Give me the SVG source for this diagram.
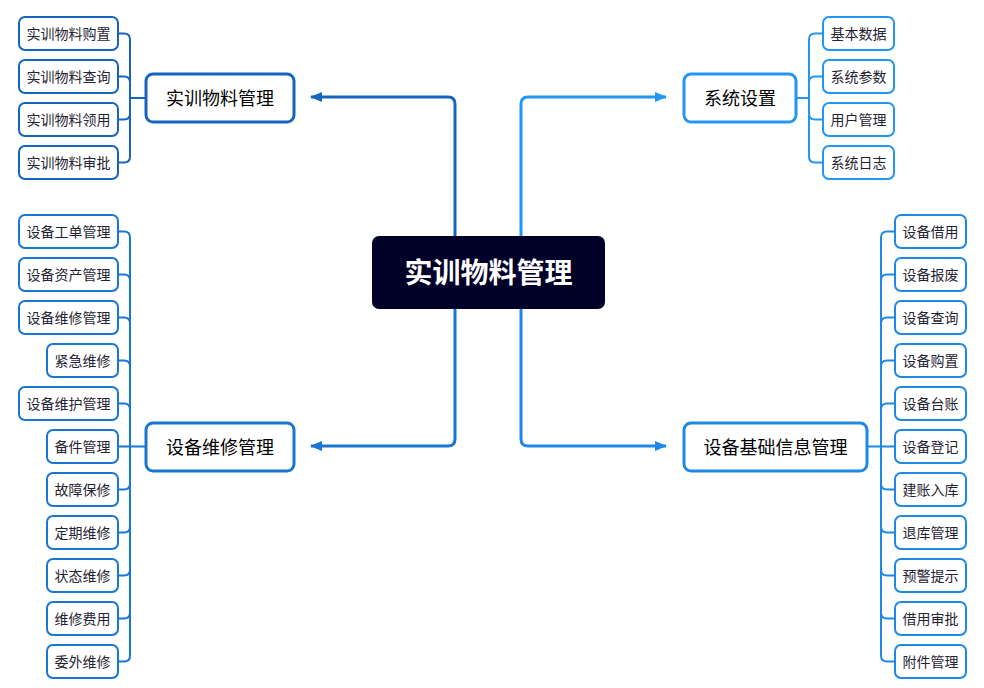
<svg xmlns="http://www.w3.org/2000/svg" width="984" height="688" viewBox="0 0 984 688">
<defs>
<marker id="ahL1" viewBox="0 0 12 10" refX="11" refY="5" markerWidth="12" markerHeight="10" markerUnits="userSpaceOnUse" orient="auto"><path d="M0,0 L12,5 L0,10 Z" fill="#1565C0"/></marker>
<marker id="ahL2" viewBox="0 0 12 10" refX="11" refY="5" markerWidth="12" markerHeight="10" markerUnits="userSpaceOnUse" orient="auto"><path d="M0,0 L12,5 L0,10 Z" fill="#1976D2"/></marker>
<marker id="ahR1" viewBox="0 0 12 10" refX="11" refY="5" markerWidth="12" markerHeight="10" markerUnits="userSpaceOnUse" orient="auto"><path d="M0,0 L12,5 L0,10 Z" fill="#2196F3"/></marker>
<marker id="ahR2" viewBox="0 0 12 10" refX="11" refY="5" markerWidth="12" markerHeight="10" markerUnits="userSpaceOnUse" orient="auto"><path d="M0,0 L12,5 L0,10 Z" fill="#1E88E5"/></marker>
</defs>
<style>
text{font-family:"Noto Sans CJK SC","Liberation Sans",sans-serif;dominant-baseline:central;text-anchor:middle}
.leaf rect{fill:#fff;stroke-width:2}
.leaf text{font-size:14px;fill:#1f2433}
.main rect{fill:#fff;stroke-width:3}
.main text{font-size:18px;fill:#000}
.c1{stroke:#1565C0}.c2{stroke:#1976D2}.c3{stroke:#2196F3}.c4{stroke:#1E88E5}
.br{fill:none;stroke-width:2}
.ar{fill:none;stroke-width:3}
</style>
<rect width="984" height="688" fill="#fff"/>
<g id="connectors">
<path class="ar c1" d="M455,236 V104 Q455,97 448,97 H311" marker-end="url(#ahL1)"/>
<path class="ar c3" d="M521,236 V104 Q521,97 528,97 H666" marker-end="url(#ahR1)"/>
<path class="ar c2" d="M455,309 V439 Q455,446 448,446 H311" marker-end="url(#ahL2)"/>
<path class="ar c4" d="M521,309 V439 Q521,446 528,446 H666" marker-end="url(#ahR2)"/>
<g class="br c1">
<path d="M145,98 H130"/>
<path d="M118,33.5 H124 Q130,33.5 130,39.5 V156.5 Q130,162.5 124,162.5 H118"/>
<path d="M118,76.5 H124 Q130,76.5 130,82.5"/>
<path d="M118,119.5 H124 Q130,119.5 130,113.5"/>
</g>
<g class="br c3">
<path d="M797,98 H809"/>
<path d="M823,33.5 H815 Q809,33.5 809,39.5 V156.5 Q809,162.5 815,162.5 H823"/>
<path d="M823,76.5 H815 Q809,76.5 809,82.5"/>
<path d="M823,119.5 H815 Q809,119.5 809,113.5"/>
</g>
<g class="br c2">
<path d="M145,446.5 H118"/>
<path d="M118,231.5 H124 Q130,231.5 130,237.5 V655.5 Q130,661.5 124,661.5 H118"/>
<path d="M118,274.5 H124 Q130,274.5 130,280.5"/>
<path d="M118,317.5 H124 Q130,317.5 130,323.5"/>
<path d="M118,360.5 H124 Q130,360.5 130,366.5"/>
<path d="M118,403.5 H124 Q130,403.5 130,409.5"/>
<path d="M118,489.5 H124 Q130,489.5 130,483.5"/>
<path d="M118,532.5 H124 Q130,532.5 130,526.5"/>
<path d="M118,575.5 H124 Q130,575.5 130,569.5"/>
<path d="M118,618.5 H124 Q130,618.5 130,612.5"/>
</g>
<g class="br c4">
<path d="M868,446.5 H895"/>
<path d="M895,231.5 H887 Q881,231.5 881,237.5 V655.5 Q881,661.5 887,661.5 H895"/>
<path d="M895,274.5 H887 Q881,274.5 881,280.5"/>
<path d="M895,317.5 H887 Q881,317.5 881,323.5"/>
<path d="M895,360.5 H887 Q881,360.5 881,366.5"/>
<path d="M895,403.5 H887 Q881,403.5 881,409.5"/>
<path d="M895,489.5 H887 Q881,489.5 881,483.5"/>
<path d="M895,532.5 H887 Q881,532.5 881,526.5"/>
<path d="M895,575.5 H887 Q881,575.5 881,569.5"/>
<path d="M895,618.5 H887 Q881,618.5 881,612.5"/>
</g>
</g>
<g id="root"><rect x="372" y="236" width="233" height="73" rx="7" fill="#000028"/><text x="488.5" y="271" font-size="28" font-weight="bold" fill="#fff">实训物料管理</text></g>
<g id="n-wl" class="main"><rect class="c1" x="146" y="74" width="148" height="48" rx="7"/><text x="220" y="97">实训物料管理</text></g>
<g id="n-xt" class="main"><rect class="c3" x="684" y="74" width="112" height="48" rx="7"/><text x="740" y="97">系统设置</text></g>
<g id="n-wx" class="main"><rect class="c2" x="146" y="423" width="148" height="48" rx="7"/><text x="220" y="446">设备维修管理</text></g>
<g id="n-jc" class="main"><rect class="c4" x="684" y="423" width="183" height="48" rx="7"/><text x="775.5" y="446">设备基础信息管理</text></g>
<g id="l1" class="leaf"><rect class="c1" x="19" y="17" width="99" height="33" rx="6"/><text x="68.5" y="32.5">实训物料购置</text></g>
<g id="l2" class="leaf"><rect class="c1" x="19" y="60" width="99" height="33" rx="6"/><text x="68.5" y="75.5">实训物料查询</text></g>
<g id="l3" class="leaf"><rect class="c1" x="19" y="103" width="99" height="33" rx="6"/><text x="68.5" y="118.5">实训物料领用</text></g>
<g id="l4" class="leaf"><rect class="c1" x="19" y="146" width="99" height="33" rx="6"/><text x="68.5" y="161.5">实训物料审批</text></g>
<g id="r1" class="leaf"><rect class="c3" x="823" y="17" width="71" height="33" rx="6"/><text x="858.5" y="32.5">基本数据</text></g>
<g id="r2" class="leaf"><rect class="c3" x="823" y="60" width="71" height="33" rx="6"/><text x="858.5" y="75.5">系统参数</text></g>
<g id="r3" class="leaf"><rect class="c3" x="823" y="103" width="71" height="33" rx="6"/><text x="858.5" y="118.5">用户管理</text></g>
<g id="r4" class="leaf"><rect class="c3" x="823" y="146" width="71" height="33" rx="6"/><text x="858.5" y="161.5">系统日志</text></g>
<g id="b1" class="leaf"><rect class="c2" x="19" y="215" width="99" height="33" rx="6"/><text x="68.5" y="230.5">设备工单管理</text></g>
<g id="b2" class="leaf"><rect class="c2" x="19" y="258" width="99" height="33" rx="6"/><text x="68.5" y="273.5">设备资产管理</text></g>
<g id="b3" class="leaf"><rect class="c2" x="19" y="301" width="99" height="33" rx="6"/><text x="68.5" y="316.5">设备维修管理</text></g>
<g id="b4" class="leaf"><rect class="c2" x="47" y="344" width="71" height="33" rx="6"/><text x="82.5" y="359.5">紧急维修</text></g>
<g id="b5" class="leaf"><rect class="c2" x="19" y="387" width="99" height="33" rx="6"/><text x="68.5" y="402.5">设备维护管理</text></g>
<g id="b6" class="leaf"><rect class="c2" x="47" y="430" width="71" height="33" rx="6"/><text x="82.5" y="445.5">备件管理</text></g>
<g id="b7" class="leaf"><rect class="c2" x="47" y="473" width="71" height="33" rx="6"/><text x="82.5" y="488.5">故障保修</text></g>
<g id="b8" class="leaf"><rect class="c2" x="47" y="516" width="71" height="33" rx="6"/><text x="82.5" y="531.5">定期维修</text></g>
<g id="b9" class="leaf"><rect class="c2" x="47" y="559" width="71" height="33" rx="6"/><text x="82.5" y="574.5">状态维修</text></g>
<g id="b10" class="leaf"><rect class="c2" x="47" y="602" width="71" height="33" rx="6"/><text x="82.5" y="617.5">维修费用</text></g>
<g id="b11" class="leaf"><rect class="c2" x="47" y="645" width="71" height="33" rx="6"/><text x="82.5" y="660.5">委外维修</text></g>
<g id="s1" class="leaf"><rect class="c4" x="895" y="215" width="71" height="33" rx="6"/><text x="930.5" y="230.5">设备借用</text></g>
<g id="s2" class="leaf"><rect class="c4" x="895" y="258" width="71" height="33" rx="6"/><text x="930.5" y="273.5">设备报废</text></g>
<g id="s3" class="leaf"><rect class="c4" x="895" y="301" width="71" height="33" rx="6"/><text x="930.5" y="316.5">设备查询</text></g>
<g id="s4" class="leaf"><rect class="c4" x="895" y="344" width="71" height="33" rx="6"/><text x="930.5" y="359.5">设备购置</text></g>
<g id="s5" class="leaf"><rect class="c4" x="895" y="387" width="71" height="33" rx="6"/><text x="930.5" y="402.5">设备台账</text></g>
<g id="s6" class="leaf"><rect class="c4" x="895" y="430" width="71" height="33" rx="6"/><text x="930.5" y="445.5">设备登记</text></g>
<g id="s7" class="leaf"><rect class="c4" x="895" y="473" width="71" height="33" rx="6"/><text x="930.5" y="488.5">建账入库</text></g>
<g id="s8" class="leaf"><rect class="c4" x="895" y="516" width="71" height="33" rx="6"/><text x="930.5" y="531.5">退库管理</text></g>
<g id="s9" class="leaf"><rect class="c4" x="895" y="559" width="71" height="33" rx="6"/><text x="930.5" y="574.5">预警提示</text></g>
<g id="s10" class="leaf"><rect class="c4" x="895" y="602" width="71" height="33" rx="6"/><text x="930.5" y="617.5">借用审批</text></g>
<g id="s11" class="leaf"><rect class="c4" x="895" y="645" width="71" height="33" rx="6"/><text x="930.5" y="660.5">附件管理</text></g>
</svg>
